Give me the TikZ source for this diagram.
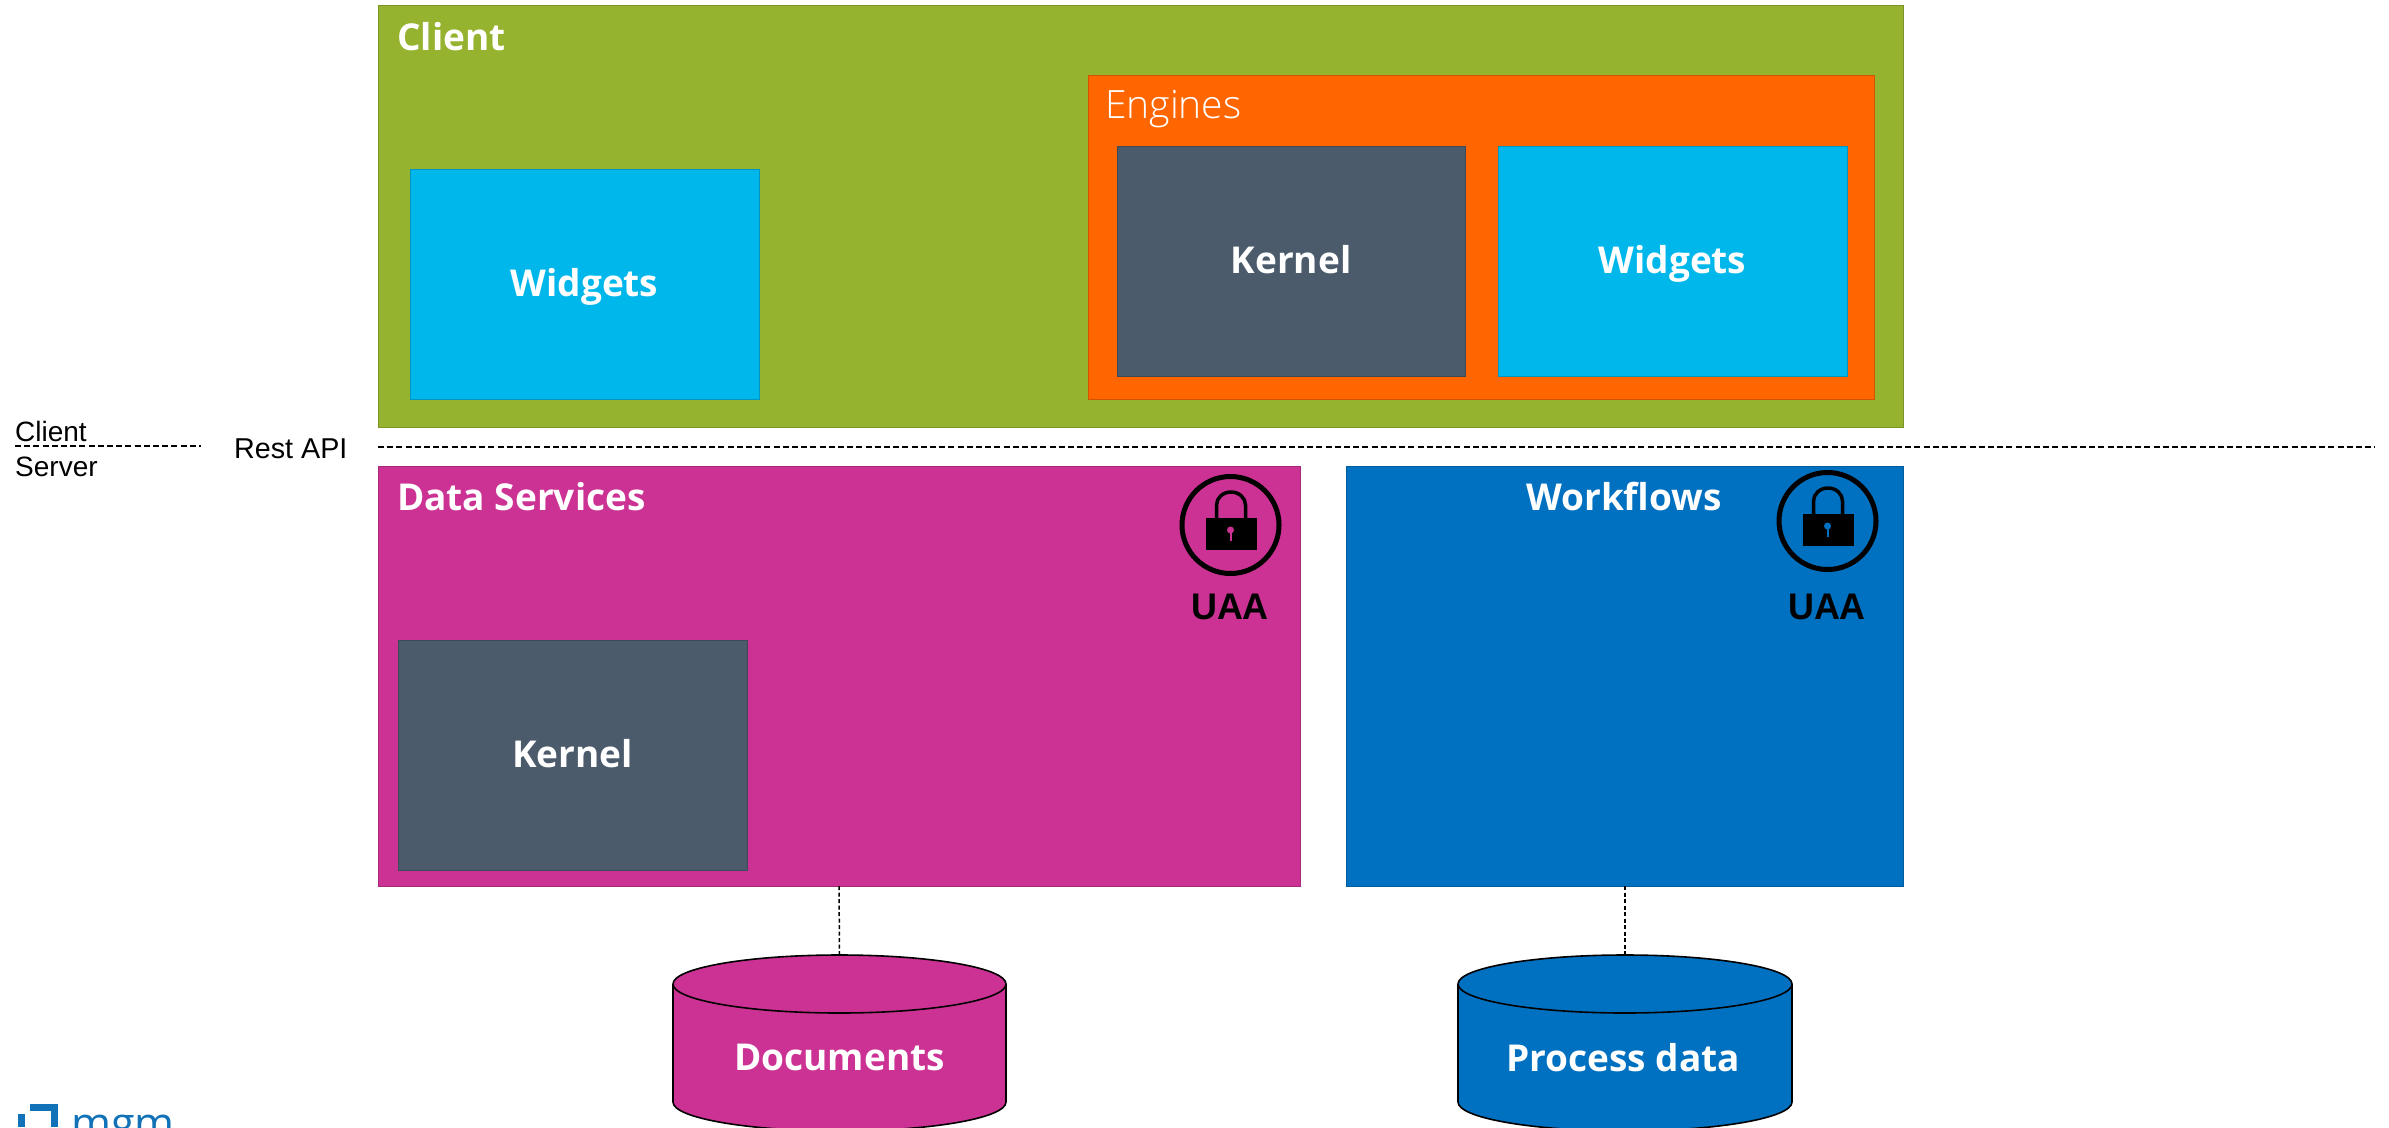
\documentclass[tikz,border=0pt]{standalone}
\usepackage{fontspec}
\setmainfont{Open Sans}
\newfontfamily\arialfont{Liberation Sans}
\newfontfamily\lightfont{Open Sans Light}
\definecolor{cgreen}{HTML}{96B32F}
\definecolor{corange}{HTML}{FF6600}
\definecolor{ccyan}{HTML}{00B7EB}
\definecolor{cgrey}{HTML}{4B5B6B}
\definecolor{cmag}{HTML}{CB3294}
\definecolor{cblue}{HTML}{0070C0}
\definecolor{clogo}{HTML}{1272B8}
\tikzset{
  x=1pt,y=-1pt,
  boxn/.style={draw=#1!82!black,fill=#1,line width=1pt,inner sep=0pt,outer sep=0pt,anchor=north west,
     text=white,font=\fontsize{37}{40}\selectfont\bfseries,align=center,text depth=3pt},
  boxlabel/.style={text=white,font=\fontsize{37}{40}\selectfont\bfseries,inner sep=0pt,anchor=base west},
  enginelabel/.style={text=white,font=\lightfont\fontsize{39}{42}\selectfont,inner sep=0pt,anchor=base west},
  sidetext/.style={font=\arialfont\fontsize{28}{32}\selectfont,inner sep=0pt,anchor=base west},
  uaatext/.style={font=\arialfont\fontsize{37}{40}\selectfont\bfseries,inner sep=0pt,anchor=base,xscale=0.97,transform shape},
  dash line/.style={black,line width=1.5pt,dash pattern=on 6pt off 3.2pt},
  dbase/.style={draw=none,fill=none,minimum width=333pt,minimum height=176pt,inner sep=0pt,outer sep=0pt},
  dblabel/.style={text=white,font=\fontsize{37}{40}\selectfont\bfseries,inner sep=0pt,text depth=0pt},
  lockring/.style={draw=black,line width=5pt,fill=none,circle,minimum size=97pt,inner sep=0pt},
}
\newcommand{\lockicon}[3]{%
  \fill[black] (#1-25,#2-7) rectangle (#1+26,#2+25);
  \draw[black,line width=3.5pt] (#1-14,#2-7) -- (#1-14,#2-20) arc[start angle=180,end angle=360,x radius=14.5,y radius=13] -- (#1+15,#2-7);
  \fill[#3] (#1,#2+5) circle[radius=3.5];
  \fill[#3] (#1-1,#2+5) rectangle (#1+1,#2+16);
}
% left x, right x, fill colour
\newcommand{\drumshape}[3]{%
  \pgfmathsetmacro{\drumrx}{(#2-#1)/2}
  \filldraw[draw=black,line width=1.6pt,fill=#3] (#1,984) -- (#1,1102)
     arc[start angle=180,end angle=0,x radius=\drumrx,y radius=29] -- (#2,984)
     arc[start angle=0,end angle=-180,x radius=\drumrx,y radius=29] -- cycle;
  \draw[black,line width=1.6pt] (#1,984) arc[start angle=180,end angle=0,x radius=\drumrx,y radius=29];
}
\begin{document}
\begin{tikzpicture}
\useasboundingbox (0,0) rectangle (2389,1127);
\clip (0,0) rectangle (2389,1127);
% client tier
\node[boxn=cgreen,minimum width=1525pt,minimum height=422pt] (client) at (378,5) {};
\node[boxlabel] (clientlabel) at (397,50) {Client};
\node[boxn=ccyan,minimum width=349pt,minimum height=230pt] (widgetsa) at (410,169) {Widgets};
\node[boxn=corange,minimum width=786pt,minimum height=324pt] (engines) at (1088,75) {};
\node[enginelabel] (engineslabel) at (1105,118) {Engines};
\node[boxn=cgrey,minimum width=348pt,minimum height=230pt] (kernela) at (1117,146) {Kernel};
\node[boxn=ccyan,minimum width=349pt,minimum height=230pt] (widgetsb) at (1498,146) {Widgets};
% separators
\coordinate (csa) at (15,446);
\coordinate (csb) at (201,446);
\coordinate (apia) at (378,447);
\coordinate (apib) at (2375,447);
\draw[dash line] (csa) -- (csb);
\draw[dash line] (apia) -- (apib);
\node[sidetext] (clienttxt) at (15,441) {Client};
\node[sidetext] (servertxt) at (15,476) {Server};
\node[sidetext,font=\arialfont\fontsize{28.7}{32}\selectfont] (restapi) at (234,458) {Rest API};
% server tier
\node[boxn=cmag,minimum width=922pt,minimum height=420pt] (data) at (378,466) {};
\node[boxlabel] (datalabel) at (397,510) {Data Services};
\node[boxn=cgrey,minimum width=349pt,minimum height=230pt] (kernelb) at (398,640) {Kernel};
\node[boxn=cblue,minimum width=557pt,minimum height=420pt] (workflows) at (1346.5,466) {};
\node[boxlabel,anchor=base] (workflowslabel) at (1624,510) {Workflows};
% locks
\node[lockring] (locka) at (1230.5,525) {};
\lockicon{1230.5}{525}{cmag}
\node[uaatext] (uaaa) at (1230,619) {UAA};
\node[lockring] (lockb) at (1827.5,521) {};
\lockicon{1827.5}{521}{cblue}
\node[uaatext] (uaab) at (1827,619) {UAA};
% stores
\drumshape{673}{1006}{cmag}
\drumshape{1458}{1792}{cblue}
\node[dbase] (docs) at (839.5,1043) {};
\node[dbase] (procs) at (1625,1043) {};
\node[dblabel] (docslabel) at (839.5,1057) {Documents};
\node[dblabel] (procslabel) at (1623,1057) {Process data};
\draw[black,line width=1.5pt,dash pattern=on 4pt off 2.5pt] (data.south) -- (docs.north);
\draw[black,line width=1.5pt,dash pattern=on 4pt off 2.5pt] (workflows.south) -- (procs.north);
% logo
\draw[clogo,line width=7pt] (30,1107.5) -- (54.5,1107.5) -- (54.5,1127);
\draw[clogo,line width=7pt] (21.5,1114) -- (21.5,1127);
\node[text=clogo,font=\fontsize{43}{46}\selectfont,inner sep=0pt,anchor=base west] (logotxt) at (71,1138) {mgm};
\end{tikzpicture}
\end{document}
